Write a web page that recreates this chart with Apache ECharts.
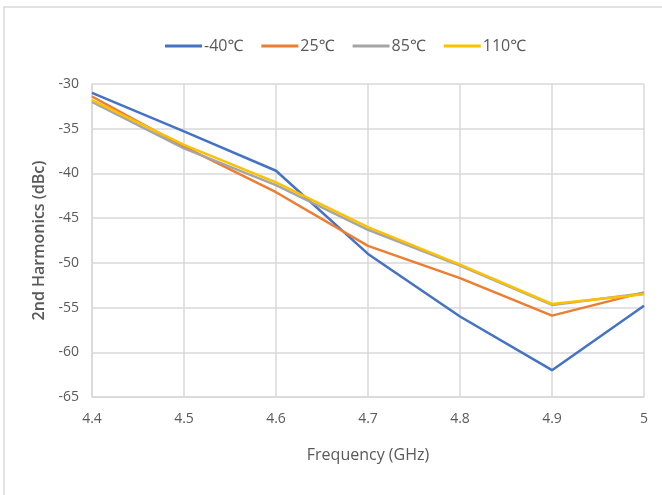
<!DOCTYPE html>
<html><head><meta charset="utf-8">
<script src="https://cdn.jsdelivr.net/npm/echarts@6/dist/echarts.min.js"></script>
<style>html,body{margin:0;padding:0;background:#fff}#c{width:662px;height:495px}</style>
</head><body><div id="c"></div>
<script>
const categories = ['4.4','4.5','4.6','4.7','4.8','4.9','5'];
const seriesNames = ['-40℃','25℃','85℃','110℃'];
const tm40 = [-31.0, -35.3, -39.7, -49.0, -56.0, -62.0, -54.8];
const t25 = [-31.4, -37.0, -42.1, -48.1, -51.7, -55.9, -53.3];
const t85 = [-32.0, -37.2, -41.3, -46.3, -50.3, -54.7, -53.4];
const t110 = [-31.8, -36.8, -41.0, -46.0, -50.2, -54.6, -53.5];
const yTicks = {min: -65, max: -30, interval: 5};
const colors = ['#4472C4','#ED7D31','#A5A5A5','#FFC000'];
const font = '"Open Sans", "Noto Sans", sans-serif';
const chart = echarts.init(document.getElementById('c'));
const data = [tm40, t25, t85, t110];
chart.setOption({
  animation: false,
  textStyle: {fontFamily: font},
  graphic: [{type:'rect', shape:{x:4,y:7,width:700,height:600}, style:{fill:'none', stroke:'#d9d9d9', lineWidth:1.5}, silent:true}],
  legend: {
    top: 33, left: 160, itemWidth: 37, itemHeight: 3, itemGap: 18,
    icon: 'rect',
    textStyle: {color:'#595959', fontSize: 16, fontFamily: font, padding:[0,0,0,-3]},
    data: seriesNames
  },
  grid: {left: 92, right: 18, top: 84, bottom: 98},
  xAxis: {
    type: 'category', data: categories, boundaryGap: false,
    name: 'Frequency (GHz)', nameLocation: 'middle', nameGap: 50,
    nameTextStyle: {color:'#595959', fontSize: 16, fontFamily: font},
    axisLine: {lineStyle:{color:'#d9d9d9', width:1.5}},
    axisTick: {show:false},
    axisLabel: {color:'#595959', fontSize: 14, margin: 15, fontFamily: font},
    splitLine: {show:true, lineStyle:{color:'#d9d9d9', width:1.5}}
  },
  yAxis: {
    type: 'value', min: yTicks.min, max: yTicks.max, interval: yTicks.interval,
    name: '2nd Harmonics (dBc)', nameLocation: 'middle', nameGap: 44,
    nameTextStyle: {color:'#595959', fontSize: 16, fontWeight: 600, fontFamily: font},
    axisLine: {show:true, lineStyle:{color:'#d9d9d9', width:1.5}},
    axisTick: {show:false},
    axisLabel: {color:'#595959', fontSize: 14, margin: 13, fontFamily: font},
    splitLine: {show:true, lineStyle:{color:'#d9d9d9', width:1.5}}
  },
  series: seriesNames.map((n,i)=>({
    name: n, type: 'line', data: data[i], symbol: 'none',
    lineStyle: {color: colors[i], width: 2.5}, itemStyle: {color: colors[i]}
  }))
});
</script></body></html>
